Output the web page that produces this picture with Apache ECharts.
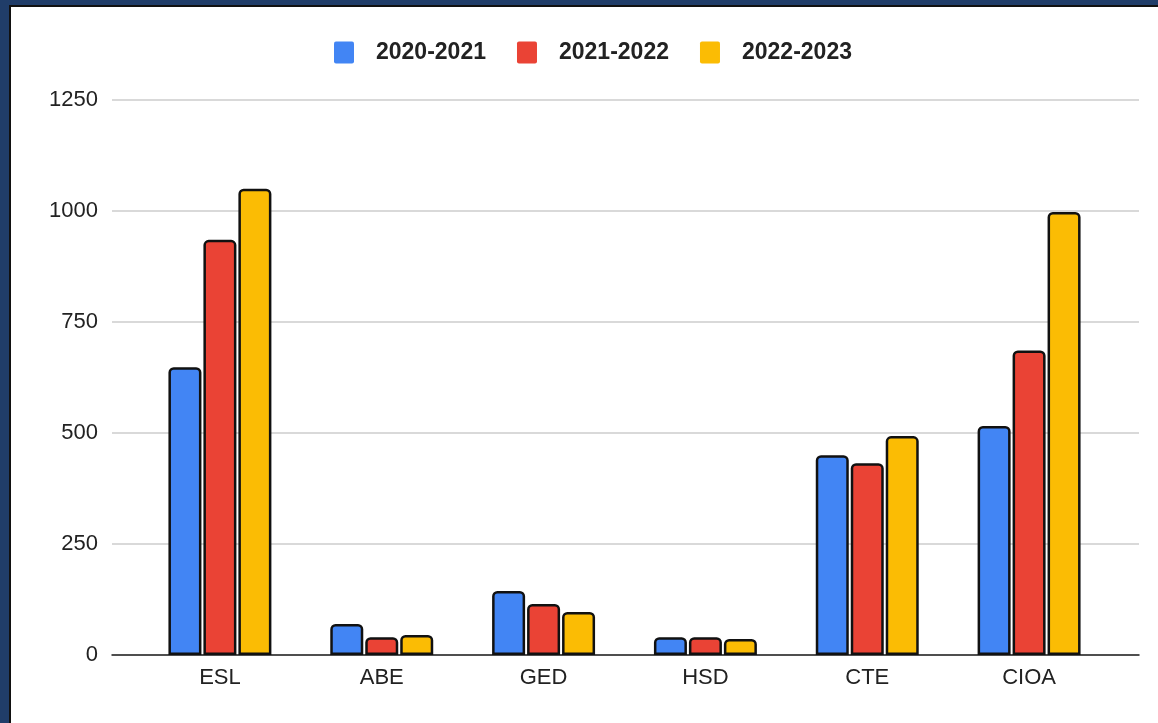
<!DOCTYPE html>
<html>
<head>
<meta charset="utf-8">
<script src="https://cdn.jsdelivr.net/npm/echarts@6/dist/echarts.min.js"></script>
<style>
    html, body { margin: 0; padding: 0; width: 1158px; height: 723px; overflow: hidden; background: #203d69; }
    .panel { position: absolute; left: 9px; top: 5px; width: 1160px; height: 730px; background: #fff; border-left: 2px solid #111; border-top: 2px solid #111; }
    .chart { position: absolute; left: 0; top: 0; width: 1158px; height: 723px; }
</style>
</head>
<body>
<div class="panel"></div>
<div class="chart"></div>
<script>
// 数据
var programs = ['ESL', 'ABE', 'GED', 'HSD', 'CTE', 'CIOA'];
var year2021 = [648, 70, 144, 40, 450, 516];
var year2022 = [935, 40, 115, 40, 432, 686];
var year2023 = [1050, 45, 97, 36, 493, 998];
var seriesNames = ['2020-2021', '2021-2022', '2022-2023'];
var colors = ['#4285f4', '#ea4335', '#fbbc04'];

window.onload = function () {
    var myChart = echarts.init(document.querySelector('.chart'));

    function barSeries(i, data) {
        return {
            name: seriesNames[i],
            type: 'bar',
            xAxisIndex: 1,
            yAxisIndex: 1,
            barWidth: 33,
            barGap: '6%',
            itemStyle: {
                color: colors[i],
                borderColor: '#111',
                borderWidth: 2.5,
                borderRadius: [4, 4, 0, 0]
            },
            data: data
        };
    }

    var option = {
        animation: false,
        textStyle: { fontFamily: 'Liberation Sans, Arial, sans-serif' },
        legend: {
            top: 36,
            left: 329,
            itemWidth: 20,
            itemHeight: 22,
            itemGap: 31,
            icon: 'path://M2,0 H18 Q20,0 20,2 V20 Q20,22 18,22 H2 Q0,22 0,20 V2 Q0,0 2,0 Z',
            itemStyle: { borderWidth: 0 },
            textStyle: {
                fontSize: 23,
                fontWeight: 'bold',
                color: '#222',
                padding: [0, 0, 0, 17]
            },
            data: seriesNames
        },
        // 两个坐标系：外层画网格线，内层画柱子
        grid: [
            { left: 112, right: 19, top: 100, bottom: 68 },
            { left: 139, right: 48, top: 100, bottom: 68 }
        ],
        xAxis: [
            {
                gridIndex: 0,
                type: 'category',
                data: [''],
                axisTick: { show: false },
                axisLabel: { show: false },
                axisLine: { lineStyle: { color: '#222', width: 1.5 } }
            },
            {
                gridIndex: 1,
                type: 'category',
                data: programs,
                axisTick: { show: false },
                axisLine: { show: false },
                axisLabel: { color: '#222', fontSize: 22, margin: 12 }
            }
        ],
        yAxis: [
            {
                gridIndex: 0,
                type: 'value',
                min: 0,
                max: 1250,
                interval: 250,
                axisLine: { show: false },
                axisTick: { show: false },
                axisLabel: {
                    color: '#222',
                    fontSize: 22,
                    margin: 14,
                    formatter: function (v) { return String(v); }
                },
                splitLine: { lineStyle: { color: '#cccccc', width: 1.5 } }
            },
            {
                gridIndex: 1,
                type: 'value',
                min: 0,
                max: 1250,
                interval: 250,
                show: false
            }
        ],
        series: [
            barSeries(0, year2021),
            barSeries(1, year2022),
            barSeries(2, year2023)
        ]
    };

    myChart.setOption(option);
};
</script>
</body>
</html>
